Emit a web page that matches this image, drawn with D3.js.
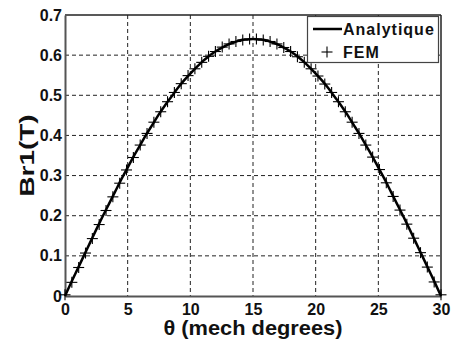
<!DOCTYPE html>
<html><head><meta charset="utf-8">
<script src="https://cdn.jsdelivr.net/npm/d3@7"></script>
<style>body{margin:0;background:#fff}svg{display:block}</style>
</head><body>
<svg id="c" width="464" height="343"></svg>
<script>
// Analytique curve, read every 0.5 degree
const lineTheta = [0,0.5,1,1.5,2,2.5,3,3.5,4,4.5,5,5.5,6,6.5,7,7.5,8,8.5,9,9.5,10,10.5,11,11.5,12,12.5,13,13.5,14,14.5,15,
  15.5,16,16.5,17,17.5,18,18.5,19,19.5,20,20.5,21,21.5,22,22.5,23,23.5,24,24.5,25,25.5,26,26.5,27,27.5,28,28.5,29,29.5,30];
const lineBr = [0,0.034,0.067,0.100,0.133,0.166,0.198,0.229,0.260,0.291,0.320,0.349,0.376,0.403,0.428,0.453,0.476,0.497,0.518,0.537,0.554,0.570,0.585,0.598,0.609,0.618,0.626,0.632,0.637,0.639,0.640,
  0.639,0.637,0.632,0.626,0.618,0.609,0.598,0.585,0.570,0.554,0.537,0.518,0.497,0.476,0.453,0.428,0.403,0.376,0.349,0.320,0.291,0.260,0.229,0.198,0.166,0.133,0.100,0.067,0.034,0];
// FEM points
const femTheta = [0,0.545,1.091,1.636,2.182,2.727,3.273,3.818,4.364,4.909,5.455,6.0,6.545,7.091,7.636,8.182,8.727,9.273,9.818,10.364,10.909,11.455,12.0,12.545,13.091,13.636,14.182,14.727,
  15.273,15.818,16.364,16.909,17.455,18.0,18.545,19.091,19.636,20.182,20.727,21.273,21.818,22.364,22.909,23.455,24.0,24.545,25.091,25.636,26.182,26.727,27.273,27.818,28.364,28.909,29.455,30];
const femBr = [0.003,0.034,0.071,0.107,0.143,0.178,0.213,0.247,0.281,0.314,0.345,0.376,0.405,0.433,0.459,0.484,0.507,0.529,0.549,0.566,0.582,0.597,0.609,0.620,0.628,0.634,0.638,0.640,
  0.640,0.638,0.634,0.628,0.619,0.609,0.596,0.582,0.566,0.548,0.528,0.507,0.484,0.459,0.433,0.405,0.376,0.346,0.315,0.282,0.248,0.214,0.179,0.144,0.108,0.072,0.035,0.003];
const xTicks = [0,5,10,15,20,25,30];
const yTicks = [0,0.1,0.2,0.3,0.4,0.5,0.6,0.7];
const yTickLabels = ["0","0.1","0.2","0.3","0.4","0.5","0.6","0.7"];
const legendLabels = ["Analytique","FEM"];

const svg = d3.select("#c");
const L=65, R=441, T=15, B=296;
const x = d3.scaleLinear().domain([0,30]).range([L,R]);
const y = d3.scaleLinear().domain([0,0.7]).range([B,T]);
const font = "'Liberation Sans', Arial, sans-serif";

// grid
const g = svg.append("g");
g.selectAll(".gx").data(xTicks.slice(1,-1)).enter().append("line")
  .attr("x1",d=>x(d)).attr("x2",d=>x(d)).attr("y1",T).attr("y2",B)
  .attr("stroke","#222").attr("stroke-width",1).attr("stroke-dasharray","4,3");
g.selectAll(".gy").data(yTicks.slice(1,-1)).enter().append("line")
  .attr("y1",d=>y(d)).attr("y2",d=>y(d)).attr("x1",L).attr("x2",R)
  .attr("stroke","#222").attr("stroke-width",1).attr("stroke-dasharray","4,3");

// frame
svg.append("line").attr("x1",L).attr("x2",R).attr("y1",T).attr("y2",T).attr("stroke","#222").attr("stroke-width",1.5);
svg.append("line").attr("x1",R).attr("x2",R).attr("y1",T).attr("y2",B).attr("stroke","#222").attr("stroke-width",1.5);

// axes
const xAxis = d3.axisBottom(x).tickValues(xTicks).tickSize(0).tickPadding(8).tickFormat(d3.format("d"));
const ax = svg.append("g").attr("transform",`translate(0,${B})`).call(xAxis);
ax.select(".domain").attr("stroke","#555").attr("stroke-width",2);
ax.selectAll("text").attr("font-family",font).attr("font-weight","bold").attr("font-size",16).attr("fill","#111");
const yAxis = d3.axisLeft(y).tickValues(yTicks).tickSize(0).tickPadding(3).tickFormat((d,i)=>yTickLabels[i]);
const ay = svg.append("g").attr("transform",`translate(${L},0)`).call(yAxis);
ay.select(".domain").attr("stroke","#555").attr("stroke-width",2);
ay.selectAll("text").attr("font-family",font).attr("font-weight","bold").attr("font-size",16).attr("fill","#111");

// line
const ln = d3.line().x((d,i)=>x(lineTheta[i])).y(d=>y(d)).curve(d3.curveMonotoneX);
svg.append("path").attr("d",ln(lineBr)).attr("fill","none").attr("stroke","#000").attr("stroke-width",2.5);

// FEM markers
const ms=5.5;
const mk = svg.append("g").attr("stroke","#000").attr("stroke-width",1.1);
femBr.forEach((v,i)=>{
  const cx=x(femTheta[i]), cy=y(v);
  mk.append("line").attr("x1",cx-ms).attr("x2",cx+ms).attr("y1",cy).attr("y2",cy);
  mk.append("line").attr("x1",cx).attr("x2",cx).attr("y1",cy-ms).attr("y2",cy+ms);
});

// axis titles
svg.append("text").attr("x",(L+R)/2).attr("y",335).attr("text-anchor","middle")
  .attr("font-family",font).attr("font-weight","bold").attr("font-size",20).attr("fill","#111")
  .attr("textLength",179).attr("lengthAdjust","spacingAndGlyphs")
  .text("θ (mech degrees)");
svg.append("text").attr("transform",`translate(34,${(T+B)/2}) rotate(-90)`).attr("text-anchor","middle")
  .attr("font-family",font).attr("font-weight","bold").attr("font-size",20).attr("fill","#111")
  .attr("textLength",82).attr("lengthAdjust","spacingAndGlyphs")
  .text("Br1(T)");

// legend
const lg = svg.append("g");
lg.append("rect").attr("x",307.5).attr("y",16.5).attr("width",131).attr("height",46)
  .attr("fill","#fff").attr("stroke","#444").attr("stroke-width",1.2);
lg.append("line").attr("x1",313).attr("x2",342).attr("y1",29).attr("y2",29).attr("stroke","#000").attr("stroke-width",2.5);
lg.append("line").attr("x1",321.5).attr("x2",332.5).attr("y1",52).attr("y2",52).attr("stroke","#000").attr("stroke-width",1.1);
lg.append("line").attr("x1",327).attr("x2",327).attr("y1",46.5).attr("y2",57.5).attr("stroke","#000").attr("stroke-width",1.1);
lg.selectAll(".lt").data(legendLabels).enter().append("text")
  .attr("x",343).attr("y",(d,i)=>i===0?35:58)
  .attr("font-family",font).attr("font-weight","bold").attr("font-size",16).attr("letter-spacing",1)
  .attr("fill","#111").text(d=>d);
</script>
</body></html>
